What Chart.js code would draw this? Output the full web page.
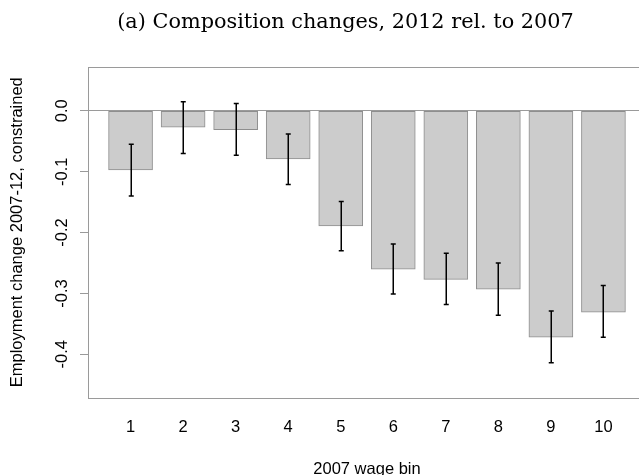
<!DOCTYPE html>
<html>
<head>
<meta charset="utf-8">
<script src="https://cdn.jsdelivr.net/npm/chart.js@4"></script>
<style>
  html, body { margin: 0; padding: 0; background: #fff; overflow: hidden; }
  #wrap { width: 639px; height: 475px; overflow: hidden; }
</style>
</head>
<body>
<div id="wrap"><canvas id="chart" width="660" height="475"></canvas></div>
<script>
const bins = ['1', '2', '3', '4', '5', '6', '7', '8', '9', '10'];
const change = [-0.097, -0.027, -0.031, -0.079, -0.189, -0.260, -0.277, -0.293, -0.372, -0.331];
const ciLow = [-0.140, -0.070, -0.073, -0.121, -0.230, -0.301, -0.318, -0.336, -0.414, -0.372];
const ciHigh = [-0.055, 0.015, 0.012, -0.038, -0.149, -0.219, -0.234, -0.250, -0.329, -0.287];
const yTicks = [0, -0.1, -0.2, -0.3, -0.4];
const yTickLabels = ['0.0', '-0.1', '-0.2', '-0.3', '-0.4'];

const titleText = '(a) Composition changes, 2012 rel. to 2007';
const SANS = '"Liberation Sans", Arial, sans-serif';
const GRAY = '#9a9a9a';

// barplot style layout: bar width 1, gap 0.2
const xPos = bins.map((b, i) => 0.7 + i * 1.2);

const extras = {
  id: 'extras',
  afterDatasetsDraw(chart) {
    const { ctx, chartArea: a, scales: { x, y } } = chart;
    ctx.save();

    // error bars
    ctx.strokeStyle = '#000';
    ctx.lineWidth = 1.5;
    xPos.forEach((xv, i) => {
      const px = Math.round(x.getPixelForValue(xv)) + 0.25;
      const y1 = y.getPixelForValue(ciLow[i]);
      const y2 = y.getPixelForValue(ciHigh[i]);
      ctx.beginPath();
      ctx.moveTo(px, y1); ctx.lineTo(px, y2);
      ctx.moveTo(px - 2.5, y1); ctx.lineTo(px + 2.5, y1);
      ctx.moveTo(px - 2.5, y2); ctx.lineTo(px + 2.5, y2);
      ctx.stroke();
    });

    // plot box
    ctx.strokeStyle = GRAY;
    ctx.lineWidth = 1;
    ctx.strokeRect(Math.round(a.left) + 0.5, Math.round(a.top) + 0.5,
      Math.round(a.right - a.left), Math.round(a.bottom - a.top));

    // rotated y tick labels
    ctx.fillStyle = '#000';
    ctx.font = '16.5px ' + SANS;
    ctx.textAlign = 'center';
    ctx.textBaseline = 'middle';
    yTicks.forEach((v, i) => {
      ctx.save();
      ctx.translate(a.left - 26, y.getPixelForValue(v));
      ctx.rotate(-Math.PI / 2);
      ctx.fillText(yTickLabels[i], 0, 0);
      ctx.restore();
    });

    // title
    ctx.font = '20.8px "DejaVu Serif", serif';
    ctx.textBaseline = 'alphabetic';
    ctx.fillText(titleText, 345.5, 27.7);
    ctx.restore();
  }
};

new Chart(document.getElementById('chart'), {
  type: 'bar',
  data: {
    datasets: [{
      data: xPos.map((xv, i) => ({ x: xv, y: change[i] })),
      backgroundColor: '#cccccc',
      borderColor: '#8e8e8e',
      borderWidth: 1,
      borderSkipped: false,
      barThickness: 44
    }]
  },
  options: {
    responsive: false,
    animation: false,
    devicePixelRatio: 1,
    layout: { padding: { top: 67, right: 14, left: 0, bottom: 0 } },
    plugins: { legend: { display: false }, tooltip: { enabled: false } },
    scales: {
      x: {
        type: 'linear',
        offset: false,
        min: -0.272,
        max: 12.472,
        grid: { display: false, drawTicks: false },
        border: { display: false },
        afterBuildTicks: s => { s.ticks = xPos.map(v => ({ value: v })); },
        ticks: {
          callback: (v, i) => bins[i],
          color: '#000',
          font: { family: SANS, size: 16.5 },
          padding: 20,
          autoSkip: false,
          maxRotation: 0
        },
        title: {
          display: true,
          text: '2007 wage bin',
          color: '#000',
          font: { family: SANS, size: 16.5, lineHeight: 1 },
          padding: { top: 0, bottom: -3 }
        },
        afterFit: s => { s.height = 77.5; }
      },
      y: {
        min: -0.471,
        max: 0.072,
        afterBuildTicks: s => { s.ticks = yTicks.map(v => ({ value: v })); },
        ticks: { display: false },
        grid: {
          drawOnChartArea: true,
          drawTicks: true,
          tickLength: 8,
          color: c => (c.tick && c.tick.value === 0 ? GRAY : 'rgba(0,0,0,0)'),
          tickColor: GRAY
        },
        border: { display: false },
        title: {
          display: true,
          text: 'Employment change 2007-12, constrained',
          color: '#000',
          font: { family: SANS, size: 16.5 },
          padding: { top: 8, bottom: 0 }
        },
        afterFit: s => { s.width = 88; }
      }
    }
  },
  plugins: [extras]
});
</script>
</body>
</html>
